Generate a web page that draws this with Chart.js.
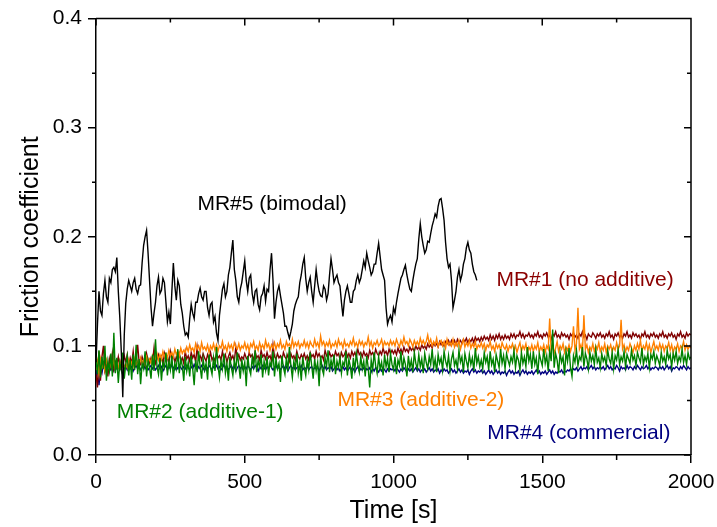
<!DOCTYPE html>
<html>
<head>
<meta charset="utf-8">
<script src="https://cdn.jsdelivr.net/npm/chart.js@4.4.1/dist/chart.umd.min.js"></script>
<style>
  html, body { margin: 0; padding: 0; background: #fff; }
</style>
</head>
<body>
<canvas id="chart" width="717" height="527"></canvas>
<script>
// sampling grid (s)
const sampleStep = 5;
const timeAll = Array.from({ length: 401 }, (_, i) => i * sampleStep);   // 0 .. 2000 s
const timeMR5 = Array.from({ length: 257 }, (_, i) => i * sampleStep);   // 0 .. 1280 s

// MR#5 (bimodal) - black
const frictionMR5 = [
  0.085, 0.120, 0.150, 0.132, 0.128, 0.148, 0.160, 0.145, 0.140, 0.162, 0.158, 0.170, 0.172, 0.168, 0.181, 0.150, 0.126, 0.095, 0.053, 0.110,
  0.139, 0.152, 0.160, 0.155, 0.150, 0.158, 0.162, 0.152, 0.148, 0.155, 0.156, 0.176, 0.192, 0.200, 0.206, 0.185, 0.160, 0.135, 0.118, 0.130,
  0.140, 0.155, 0.163, 0.148, 0.151, 0.162, 0.158, 0.140, 0.122, 0.131, 0.120, 0.150, 0.176, 0.155, 0.142, 0.160, 0.155, 0.138, 0.130, 0.118,
  0.110, 0.112, 0.108, 0.125, 0.138, 0.130, 0.125, 0.140, 0.140, 0.148, 0.153, 0.145, 0.142, 0.150, 0.150, 0.135, 0.128, 0.138, 0.140, 0.122,
  0.127, 0.112, 0.105, 0.128, 0.140, 0.152, 0.157, 0.145, 0.150, 0.165, 0.172, 0.185, 0.197, 0.170, 0.160, 0.145, 0.140, 0.152, 0.158, 0.168,
  0.178, 0.160, 0.150, 0.162, 0.165, 0.148, 0.140, 0.150, 0.152, 0.138, 0.133, 0.145, 0.148, 0.155, 0.141, 0.152, 0.150, 0.170, 0.185, 0.160,
  0.125, 0.140, 0.150, 0.155, 0.146, 0.138, 0.130, 0.118, 0.118, 0.112, 0.107, 0.113, 0.120, 0.132, 0.138, 0.142, 0.145, 0.158, 0.165, 0.175,
  0.181, 0.162, 0.150, 0.158, 0.163, 0.150, 0.140, 0.155, 0.170, 0.158, 0.150, 0.146, 0.145, 0.155, 0.152, 0.142, 0.148, 0.165, 0.180, 0.170,
  0.158, 0.162, 0.165, 0.158, 0.155, 0.140, 0.127, 0.142, 0.150, 0.155, 0.148, 0.140, 0.140, 0.150, 0.152, 0.160, 0.165, 0.158, 0.162, 0.170,
  0.178, 0.172, 0.185, 0.178, 0.172, 0.165, 0.168, 0.175, 0.175, 0.185, 0.194, 0.182, 0.170, 0.165, 0.160, 0.135, 0.120, 0.125, 0.128, 0.122,
  0.135, 0.130, 0.140, 0.148, 0.155, 0.162, 0.165, 0.170, 0.174, 0.165, 0.158, 0.152, 0.150, 0.160, 0.168, 0.175, 0.180, 0.198, 0.212, 0.200,
  0.192, 0.185, 0.188, 0.196, 0.195, 0.203, 0.210, 0.215, 0.221, 0.218, 0.228, 0.234, 0.235, 0.226, 0.215, 0.195, 0.180, 0.172, 0.175, 0.160,
  0.135, 0.142, 0.150, 0.163, 0.170, 0.160, 0.165, 0.175, 0.180, 0.190, 0.195, 0.188, 0.185, 0.175, 0.168, 0.165, 0.160
];

// MR#1 (no additive) - dark red
const frictionMR1 = [
  0.074, 0.062, 0.095, 0.068, 0.090, 0.100, 0.078, 0.085, 0.072, 0.088, 0.081, 0.093, 0.079, 0.086, 0.083, 0.090, 0.080, 0.087, 0.084, 0.091,
  0.085, 0.092, 0.082, 0.089, 0.084, 0.095, 0.081, 0.088, 0.101, 0.085, 0.083, 0.090, 0.086, 0.082, 0.093, 0.087, 0.084, 0.089, 0.085, 0.098,
  0.084, 0.088, 0.092, 0.085, 0.090, 0.083, 0.093, 0.087, 0.089, 0.084, 0.095, 0.088, 0.091, 0.085, 0.090, 0.087, 0.093, 0.086, 0.089, 0.084,
  0.095, 0.088, 0.091, 0.086, 0.094, 0.089, 0.092, 0.085, 0.099, 0.088, 0.091, 0.087, 0.093, 0.089, 0.086, 0.092, 0.088, 0.094, 0.087, 0.090,
  0.086, 0.093, 0.089, 0.091, 0.087, 0.095, 0.088, 0.092, 0.085, 0.090, 0.094, 0.088, 0.091, 0.086, 0.099, 0.089, 0.092, 0.087, 0.090, 0.088,
  0.093, 0.089, 0.087, 0.094, 0.090, 0.092, 0.086, 0.095, 0.089, 0.091, 0.087, 0.096, 0.090, 0.092, 0.088, 0.094, 0.089, 0.091, 0.086, 0.101,
  0.090, 0.088, 0.093, 0.089, 0.091, 0.087, 0.094, 0.090, 0.088, 0.092, 0.086, 0.093, 0.089, 0.091, 0.087, 0.095, 0.090, 0.088, 0.092, 0.089,
  0.093, 0.088, 0.091, 0.087, 0.094, 0.090, 0.092, 0.088, 0.095, 0.090, 0.093, 0.089, 0.091, 0.087, 0.096, 0.091, 0.089, 0.094, 0.090, 0.092,
  0.089, 0.095, 0.091, 0.093, 0.088, 0.094, 0.090, 0.092, 0.096, 0.090, 0.093, 0.089, 0.095, 0.091, 0.094, 0.090, 0.097, 0.092, 0.094, 0.090,
  0.095, 0.091, 0.093, 0.089, 0.096, 0.092, 0.094, 0.090, 0.097, 0.093, 0.091, 0.095, 0.092, 0.098, 0.093, 0.095, 0.091, 0.097, 0.093, 0.096,
  0.093, 0.096, 0.092, 0.098, 0.094, 0.097, 0.093, 0.099, 0.095, 0.097, 0.094, 0.099, 0.096, 0.098, 0.095, 0.100, 0.097, 0.099, 0.096, 0.101,
  0.098, 0.100, 0.097, 0.102, 0.099, 0.101, 0.098, 0.103, 0.100, 0.102, 0.099, 0.104, 0.101, 0.103, 0.100, 0.104, 0.102, 0.105, 0.101, 0.105,
  0.102, 0.105, 0.101, 0.106, 0.103, 0.105, 0.102, 0.106, 0.104, 0.107, 0.103, 0.106, 0.104, 0.107, 0.103, 0.108, 0.105, 0.107, 0.104, 0.108,
  0.105, 0.109, 0.106, 0.108, 0.105, 0.110, 0.106, 0.109, 0.105, 0.110, 0.107, 0.111, 0.106, 0.109, 0.106, 0.110, 0.107, 0.109, 0.106, 0.111,
  0.108, 0.111, 0.107, 0.110, 0.109, 0.113, 0.108, 0.111, 0.107, 0.110, 0.109, 0.112, 0.108, 0.110, 0.107, 0.111, 0.109, 0.113, 0.108, 0.110,
  0.107, 0.111, 0.109, 0.112, 0.108, 0.110, 0.106, 0.111, 0.109, 0.113, 0.108, 0.110, 0.107, 0.112, 0.109, 0.111, 0.108, 0.110, 0.106, 0.111,
  0.109, 0.112, 0.108, 0.110, 0.107, 0.111, 0.109, 0.113, 0.108, 0.110, 0.106, 0.111, 0.109, 0.108, 0.112, 0.110, 0.107, 0.111, 0.109, 0.112,
  0.108, 0.110, 0.107, 0.111, 0.109, 0.113, 0.108, 0.110, 0.106, 0.111, 0.109, 0.112, 0.108, 0.110, 0.107, 0.111, 0.109, 0.113, 0.108, 0.110,
  0.107, 0.112, 0.109, 0.111, 0.108, 0.110, 0.106, 0.111, 0.109, 0.113, 0.108, 0.110, 0.107, 0.111, 0.109, 0.112, 0.108, 0.110, 0.107, 0.111,
  0.109, 0.113, 0.108, 0.110, 0.107, 0.111, 0.109, 0.112, 0.108, 0.110, 0.106, 0.111, 0.109, 0.113, 0.108, 0.110, 0.107, 0.112, 0.109, 0.111,
  0.110
];

// MR#3 (additive-2) - orange
const frictionMR3 = [
  0.078, 0.086, 0.074, 0.088, 0.080, 0.084, 0.077, 0.087, 0.082, 0.079, 0.085, 0.081, 0.088, 0.078, 0.084, 0.080, 0.086, 0.079, 0.083, 0.081,
  0.084, 0.080, 0.087, 0.082, 0.085, 0.081, 0.088, 0.083, 0.086, 0.082, 0.089, 0.084, 0.087, 0.083, 0.090, 0.085, 0.088, 0.084, 0.091, 0.086,
  0.089, 0.093, 0.087, 0.092, 0.088, 0.095, 0.090, 0.093, 0.089, 0.096, 0.091, 0.094, 0.090, 0.097, 0.092, 0.095, 0.091, 0.098, 0.093, 0.096,
  0.094, 0.099, 0.095, 0.101, 0.096, 0.098, 0.094, 0.102, 0.097, 0.100, 0.095, 0.103, 0.097, 0.099, 0.096, 0.101, 0.094, 0.100, 0.097, 0.102,
  0.096, 0.101, 0.095, 0.100, 0.098, 0.104, 0.097, 0.100, 0.095, 0.102, 0.098, 0.101, 0.096, 0.103, 0.099, 0.097, 0.102, 0.096, 0.100, 0.098,
  0.103, 0.097, 0.101, 0.095, 0.102, 0.099, 0.104, 0.097, 0.100, 0.096, 0.103, 0.098, 0.101, 0.097, 0.105, 0.099, 0.102, 0.096, 0.101, 0.098,
  0.103, 0.097, 0.102, 0.099, 0.105, 0.098, 0.101, 0.097, 0.104, 0.100, 0.102, 0.098, 0.106, 0.099, 0.103, 0.100, 0.104, 0.098, 0.102, 0.100,
  0.105, 0.099, 0.103, 0.098, 0.104, 0.101, 0.099, 0.106, 0.100, 0.103, 0.098, 0.109, 0.101, 0.104, 0.099, 0.103, 0.100, 0.105, 0.098, 0.102,
  0.100, 0.104, 0.099, 0.106, 0.101, 0.103, 0.098, 0.105, 0.100, 0.102, 0.099, 0.104, 0.101, 0.107, 0.100, 0.103, 0.099, 0.105, 0.101, 0.104,
  0.099, 0.103, 0.101, 0.108, 0.100, 0.104, 0.098, 0.103, 0.101, 0.105, 0.100, 0.102, 0.106, 0.099, 0.104, 0.101, 0.103, 0.100, 0.105, 0.101,
  0.104, 0.100, 0.106, 0.102, 0.099, 0.105, 0.101, 0.108, 0.102, 0.104, 0.100, 0.106, 0.103, 0.099, 0.105, 0.101, 0.104, 0.100, 0.107, 0.102,
  0.105, 0.101, 0.104, 0.110, 0.102, 0.106, 0.100, 0.104, 0.101, 0.107, 0.099, 0.103, 0.105, 0.100, 0.104, 0.098, 0.106, 0.101, 0.103, 0.100,
  0.106, 0.099, 0.103, 0.100, 0.105, 0.097, 0.102, 0.106, 0.099, 0.103, 0.100, 0.105, 0.098, 0.102, 0.099, 0.104, 0.097, 0.101, 0.099, 0.103,
  0.098, 0.102, 0.096, 0.101, 0.099, 0.104, 0.097, 0.100, 0.095, 0.102, 0.098, 0.101, 0.096, 0.103, 0.099, 0.097, 0.101, 0.095, 0.100, 0.098,
  0.102, 0.096, 0.100, 0.094, 0.099, 0.103, 0.095, 0.100, 0.097, 0.102, 0.094, 0.099, 0.096, 0.101, 0.095, 0.100, 0.097, 0.103, 0.095, 0.099,
  0.096, 0.101, 0.094, 0.100, 0.097, 0.125, 0.095, 0.101, 0.093, 0.098, 0.104, 0.095, 0.100, 0.097, 0.102, 0.094, 0.099, 0.096, 0.101, 0.095,
  0.100, 0.118, 0.096, 0.102, 0.135, 0.097, 0.101, 0.094, 0.128, 0.097, 0.101, 0.094, 0.099, 0.096, 0.102, 0.095, 0.100, 0.097, 0.103, 0.095,
  0.099, 0.096, 0.102, 0.094, 0.100, 0.097, 0.101, 0.095, 0.099, 0.096, 0.103, 0.097, 0.100, 0.124, 0.097, 0.101, 0.095, 0.099, 0.096, 0.102,
  0.098, 0.094, 0.100, 0.096, 0.102, 0.097, 0.105, 0.095, 0.100, 0.097, 0.103, 0.096, 0.101, 0.094, 0.099, 0.104, 0.097, 0.100, 0.096, 0.102,
  0.097, 0.101, 0.095, 0.100, 0.098, 0.103, 0.096, 0.101, 0.094, 0.099, 0.097, 0.102, 0.095, 0.100, 0.098, 0.104, 0.096, 0.101, 0.097, 0.100,
  0.098
];

// MR#2 (additive-1) - green
const frictionMR2 = [
  0.088, 0.074, 0.096, 0.071, 0.090, 0.079, 0.100, 0.068, 0.086, 0.077, 0.093, 0.072, 0.112, 0.075, 0.089, 0.066, 0.085, 0.078, 0.094, 0.070,
  0.083, 0.091, 0.073, 0.087, 0.069, 0.092, 0.078, 0.101, 0.074, 0.088, 0.065, 0.084, 0.079, 0.095, 0.072, 0.087, 0.080, 0.070, 0.092, 0.077,
  0.106, 0.081, 0.074, 0.089, 0.068, 0.085, 0.080, 0.094, 0.073, 0.086, 0.078, 0.091, 0.070, 0.084, 0.079, 0.097, 0.075, 0.088, 0.082, 0.068,
  0.090, 0.077, 0.085, 0.072, 0.091, 0.079, 0.064, 0.087, 0.076, 0.095, 0.081, 0.070, 0.088, 0.078, 0.084, 0.069, 0.092, 0.080, 0.074, 0.089,
  0.077, 0.099, 0.082, 0.071, 0.086, 0.079, 0.093, 0.075, 0.084, 0.068, 0.090, 0.080, 0.073, 0.087, 0.078, 0.094, 0.082, 0.070, 0.088, 0.077,
  0.085, 0.063, 0.091, 0.079, 0.074, 0.089, 0.081, 0.096, 0.076, 0.087, 0.080, 0.092, 0.071, 0.086, 0.078, 0.090, 0.073, 0.085, 0.081, 0.095,
  0.072, 0.088, 0.079, 0.084, 0.067, 0.091, 0.080, 0.074, 0.089, 0.077, 0.099, 0.082, 0.071, 0.086, 0.079, 0.093, 0.075, 0.084, 0.068, 0.090,
  0.080, 0.073, 0.087, 0.078, 0.094, 0.082, 0.070, 0.088, 0.077, 0.085, 0.063, 0.091, 0.079, 0.074, 0.089, 0.081, 0.096, 0.076, 0.087, 0.080,
  0.092, 0.074, 0.086, 0.080, 0.090, 0.075, 0.085, 0.082, 0.095, 0.073, 0.088, 0.081, 0.070, 0.089, 0.078, 0.093, 0.083, 0.076, 0.090, 0.079,
  0.086, 0.072, 0.091, 0.080, 0.062, 0.087, 0.078, 0.094, 0.082, 0.075, 0.090, 0.079, 0.085, 0.073, 0.092, 0.081, 0.088, 0.076, 0.093, 0.083,
  0.078, 0.090, 0.074, 0.087, 0.082, 0.095, 0.077, 0.089, 0.083, 0.072, 0.091, 0.080, 0.087, 0.076, 0.094, 0.084, 0.079, 0.092, 0.081, 0.088,
  0.075, 0.093, 0.085, 0.079, 0.090, 0.083, 0.097, 0.080, 0.088, 0.076, 0.092, 0.084, 0.089, 0.078, 0.095, 0.086, 0.081, 0.091, 0.077, 0.088,
  0.094, 0.082, 0.087, 0.079, 0.096, 0.085, 0.090, 0.076, 0.093, 0.086, 0.080, 0.092, 0.083, 0.089, 0.077, 0.098, 0.084, 0.090, 0.081, 0.087,
  0.079, 0.094, 0.085, 0.090, 0.078, 0.095, 0.083, 0.088, 0.076, 0.092, 0.086, 0.080, 0.097, 0.084, 0.091, 0.079, 0.093, 0.087, 0.082, 0.090,
  0.085, 0.096, 0.080, 0.091, 0.087, 0.078, 0.094, 0.084, 0.090, 0.081, 0.099, 0.086, 0.092, 0.079, 0.095, 0.083, 0.089, 0.074, 0.093, 0.087,
  0.082, 0.097, 0.084, 0.091, 0.077, 0.096, 0.086, 0.115, 0.080, 0.093, 0.087, 0.075, 0.094, 0.085, 0.090, 0.073, 0.095, 0.086, 0.098, 0.080,
  0.072, 0.091, 0.085, 0.096, 0.082, 0.090, 0.087, 0.099, 0.081, 0.093, 0.088, 0.079, 0.094, 0.086, 0.091, 0.083, 0.097, 0.085, 0.089, 0.080,
  0.093, 0.086, 0.090, 0.082, 0.096, 0.088, 0.084, 0.094, 0.079, 0.091, 0.087, 0.097, 0.083, 0.090, 0.086, 0.095, 0.081, 0.092, 0.088, 0.084,
  0.096, 0.087, 0.091, 0.082, 0.094, 0.089, 0.085, 0.098, 0.083, 0.090, 0.086, 0.093, 0.080, 0.092, 0.088, 0.095, 0.084, 0.091, 0.087, 0.082,
  0.094, 0.086, 0.090, 0.083, 0.096, 0.088, 0.092, 0.081, 0.093, 0.087, 0.095, 0.084, 0.090, 0.086, 0.097, 0.085, 0.091, 0.083, 0.094, 0.088,
  0.090
];

// MR#4 (commercial) - navy
const frictionMR4 = [
  0.070, 0.084, 0.064, 0.079, 0.075, 0.083, 0.077, 0.081, 0.076, 0.082, 0.078, 0.080, 0.077, 0.082, 0.079, 0.081, 0.078, 0.080, 0.082, 0.079,
  0.081, 0.078, 0.082, 0.079, 0.081, 0.077, 0.080, 0.082, 0.079, 0.081, 0.078, 0.080, 0.083, 0.079, 0.081, 0.078, 0.080, 0.082, 0.079, 0.081,
  0.078, 0.080, 0.082, 0.079, 0.081, 0.077, 0.080, 0.082, 0.078, 0.081, 0.079, 0.083, 0.080, 0.078, 0.081, 0.079, 0.082, 0.080, 0.078, 0.081,
  0.079, 0.082, 0.080, 0.078, 0.081, 0.079, 0.083, 0.080, 0.078, 0.081, 0.079, 0.082, 0.080, 0.077, 0.081, 0.079, 0.082, 0.080, 0.078, 0.081,
  0.080, 0.082, 0.079, 0.081, 0.078, 0.080, 0.083, 0.079, 0.081, 0.078, 0.080, 0.082, 0.079, 0.081, 0.077, 0.080, 0.082, 0.079, 0.081, 0.078,
  0.081, 0.079, 0.082, 0.080, 0.078, 0.081, 0.079, 0.082, 0.080, 0.077, 0.081, 0.079, 0.082, 0.080, 0.078, 0.081, 0.079, 0.083, 0.080, 0.078,
  0.080, 0.082, 0.079, 0.081, 0.078, 0.080, 0.082, 0.079, 0.081, 0.077, 0.080, 0.082, 0.079, 0.081, 0.078, 0.080, 0.081, 0.079, 0.082, 0.078,
  0.080, 0.079, 0.082, 0.078, 0.080, 0.081, 0.078, 0.080, 0.079, 0.081, 0.077, 0.080, 0.082, 0.079, 0.081, 0.078, 0.080, 0.079, 0.081, 0.077,
  0.079, 0.081, 0.078, 0.080, 0.077, 0.079, 0.081, 0.078, 0.080, 0.077, 0.079, 0.081, 0.078, 0.079, 0.076, 0.079, 0.081, 0.077, 0.079, 0.078,
  0.080, 0.077, 0.079, 0.078, 0.080, 0.076, 0.079, 0.077, 0.080, 0.078, 0.076, 0.079, 0.077, 0.080, 0.078, 0.076, 0.079, 0.077, 0.079, 0.078,
  0.079, 0.077, 0.080, 0.078, 0.076, 0.079, 0.077, 0.080, 0.078, 0.076, 0.079, 0.077, 0.079, 0.076, 0.078, 0.080, 0.077, 0.079, 0.076, 0.078,
  0.077, 0.079, 0.076, 0.078, 0.080, 0.077, 0.079, 0.076, 0.078, 0.077, 0.079, 0.075, 0.078, 0.076, 0.079, 0.077, 0.078, 0.075, 0.077, 0.079,
  0.076, 0.078, 0.075, 0.077, 0.079, 0.076, 0.078, 0.075, 0.077, 0.076, 0.078, 0.074, 0.077, 0.079, 0.076, 0.078, 0.075, 0.077, 0.076, 0.078,
  0.075, 0.077, 0.074, 0.076, 0.078, 0.075, 0.077, 0.074, 0.076, 0.078, 0.075, 0.077, 0.074, 0.076, 0.075, 0.077, 0.073, 0.076, 0.078, 0.075,
  0.077, 0.074, 0.076, 0.075, 0.077, 0.073, 0.076, 0.078, 0.075, 0.077, 0.074, 0.076, 0.075, 0.077, 0.074, 0.076, 0.078, 0.075, 0.077, 0.074,
  0.076, 0.075, 0.077, 0.074, 0.076, 0.078, 0.075, 0.077, 0.074, 0.076, 0.075, 0.077, 0.076, 0.078, 0.075, 0.077, 0.076, 0.078, 0.077, 0.079,
  0.077, 0.079, 0.078, 0.080, 0.077, 0.079, 0.081, 0.078, 0.080, 0.079, 0.081, 0.078, 0.080, 0.082, 0.079, 0.081, 0.078, 0.080, 0.079, 0.081,
  0.079, 0.081, 0.078, 0.080, 0.082, 0.079, 0.081, 0.078, 0.080, 0.079, 0.082, 0.080, 0.077, 0.081, 0.079, 0.080, 0.078, 0.082, 0.079, 0.081,
  0.080, 0.078, 0.081, 0.079, 0.082, 0.080, 0.078, 0.081, 0.079, 0.080, 0.082, 0.079, 0.081, 0.078, 0.080, 0.079, 0.081, 0.080, 0.078, 0.081,
  0.079, 0.081, 0.078, 0.080, 0.082, 0.079, 0.081, 0.077, 0.080, 0.079, 0.081, 0.080, 0.078, 0.081, 0.079, 0.082, 0.080, 0.078, 0.081, 0.079,
  0.080
];

// tick positions
const xMajorTicks = [0, 500, 1000, 1500, 2000];
const xMinorTicks = [250, 750, 1250, 1750];
const yMajorTicks = [0, 0.1, 0.2, 0.3, 0.4];
const yMinorTicks = [0.05, 0.15, 0.25, 0.35];

// in-plot labels
const labelTexts = ['MR#5 (bimodal)', 'MR#1 (no additive)', 'MR#2 (additive-1)', 'MR#3 (additive-2)', 'MR#4 (commercial)'];
const labelX = [592, 1644, 350, 1092, 1623];
const labelY = [0.230, 0.160, 0.039, 0.050, 0.020];
const labelColors = ['#000000', '#8b0000', '#008000', '#ff8000', '#000080'];

const FONT = "'Liberation Sans', Arial, sans-serif";

function toPoints(times, values) {
  return values.map((v, i) => ({ x: times[i], y: v }));
}

// frame, minor ticks and labels
const decorations = {
  id: 'decorations',
  afterDraw(chart) {
    const { ctx, chartArea: a, scales: { x, y } } = chart;
    ctx.save();
    ctx.strokeStyle = '#000';
    ctx.lineWidth = 1.5;
    ctx.beginPath();
    ctx.moveTo(a.left, a.top);
    ctx.lineTo(a.right, a.top);
    ctx.lineTo(a.right, a.bottom);
    xMinorTicks.forEach(t => {
      const px = x.getPixelForValue(t);
      ctx.moveTo(px, a.bottom); ctx.lineTo(px, a.bottom + 5);
      ctx.moveTo(px, a.top); ctx.lineTo(px, a.top + 4);
    });
    xMajorTicks.forEach(t => {
      const px = x.getPixelForValue(t);
      ctx.moveTo(px, a.top); ctx.lineTo(px, a.top + 7);
    });
    yMinorTicks.forEach(t => {
      const py = y.getPixelForValue(t);
      ctx.moveTo(a.left, py); ctx.lineTo(a.left - 4, py);
      ctx.moveTo(a.right, py); ctx.lineTo(a.right - 4, py);
    });
    yMajorTicks.forEach(t => {
      const py = y.getPixelForValue(t);
      ctx.moveTo(a.right, py); ctx.lineTo(a.right - 7, py);
    });
    ctx.stroke();

    ctx.font = '21px ' + FONT;
    ctx.textAlign = 'center';
    ctx.textBaseline = 'middle';
    labelTexts.forEach((txt, i) => {
      ctx.fillStyle = labelColors[i];
      ctx.fillText(txt, x.getPixelForValue(labelX[i]), y.getPixelForValue(labelY[i]));
    });
    ctx.restore();
  }
};

const lineStyle = { pointRadius: 0, borderWidth: 1.4, tension: 0, fill: false };

new Chart(document.getElementById('chart'), {
  type: 'line',
  data: {
    datasets: [
      { label: 'MR#5', data: toPoints(timeMR5, frictionMR5), borderColor: '#000000', order: 0, ...lineStyle },
      { label: 'MR#2', data: toPoints(timeAll, frictionMR2), borderColor: '#008000', order: 1, ...lineStyle },
      { label: 'MR#3', data: toPoints(timeAll, frictionMR3), borderColor: '#ff8000', order: 2, ...lineStyle },
      { label: 'MR#1', data: toPoints(timeAll, frictionMR1), borderColor: '#800000', order: 3, ...lineStyle },
      { label: 'MR#4', data: toPoints(timeAll, frictionMR4), borderColor: '#000080', order: 4, ...lineStyle }
    ]
  },
  options: {
    responsive: false,
    animation: false,
    layout: { padding: { top: 18, right: 26, left: 0, bottom: 0 } },
    plugins: { legend: { display: false }, tooltip: { enabled: false } },
    scales: {
      x: {
        type: 'linear', min: 0, max: 2000,
        afterFit: s => { s.height = 72; s.paddingRight = 0; s.paddingLeft = 0; },
        ticks: { stepSize: 500, color: '#000', font: { family: FONT, size: 21 }, padding: 7, maxRotation: 0, callback: v => String(v) },
        grid: { drawOnChartArea: false, drawTicks: true, tickLength: 8, color: '#000', lineWidth: 1.5 },
        border: { color: '#000', width: 1.5 },
        title: { display: true, text: 'Time [s]', color: '#000', font: { family: FONT, size: 25 }, padding: { top: 0, bottom: 1 } }
      },
      y: {
        min: 0, max: 0.4,
        afterFit: s => { s.width = 96; },
        ticks: { stepSize: 0.1, color: '#000', font: { family: FONT, size: 21 }, padding: 6, callback: v => v.toFixed(1) },
        grid: { drawOnChartArea: false, drawTicks: true, tickLength: 8, color: '#000', lineWidth: 1.5 },
        border: { color: '#000', width: 1.5 },
        title: { display: true, text: 'Friction coefficient', color: '#000', font: { family: FONT, size: 25 }, padding: { top: 16, bottom: 0 } }
      }
    }
  },
  plugins: [decorations]
});
</script>
</body>
</html>
